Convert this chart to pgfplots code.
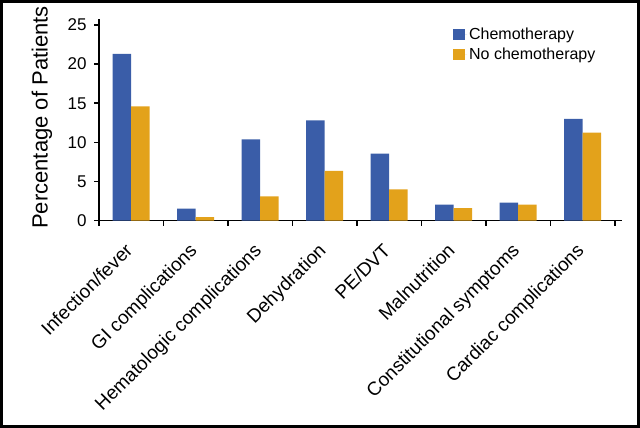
\documentclass[border=0pt]{standalone}
\usepackage{fontspec}
\setmainfont{Liberation Sans}
\usepackage{pgfplots}
\pgfplotsset{compat=1.18}
\definecolor{chemo}{HTML}{3A5DA8}
\definecolor{nochemo}{HTML}{E3A21B}
\pgfplotsset{sqlegend/.style={legend image code/.code={\fill[##1] (0pt,-5.5pt) rectangle (11.5pt,5.5pt); \path (0pt,0pt) -- (14pt,0pt);}}}
\begin{document}
\begin{tikzpicture}[x=1pt,y=1pt]
\path[use as bounding box] (0,0) rectangle (640,428);
\draw[line width=3pt] (1.5,1.5) rectangle (638.5,426.5);
\begin{axis}[
  at={(99pt,207.3pt)}, anchor=south west,
  scale only axis, width=523pt, height=201.7pt,
  xmin=-0.5, xmax=7.609, ymin=0, ymax=25.76,
  axis x line*=bottom, axis y line*=left,
  axis line style={line width=1.6pt, black},
  ybar=0pt, bar width=18.5pt,
  xtick={0,1,2,3,4,5,6,7},
  xticklabels={Infection/fever, GI complications, Hematologic complications, Dehydration, PE/DVT, Malnutrition, Constitutional symptoms, Cardiac complications},
  major x tick style={draw=none},
  minor xtick={-0.5,0.5,1.5,2.5,3.5,4.5,5.5,6.5,7.5},
  ytick={0,5,10,15,20,25},
  tick align=outside,
  tick style={line width=1.6pt, black},
  major tick length=5pt, minor tick length=5pt,
  /pgf/number format/assume math mode=true,
  yticklabel style={font=\fontsize{17}{20}\selectfont, xshift=-4pt},
  xticklabel style={rotate=45, anchor=north east, font=\fontsize{19}{21}\selectfont, xshift=-13.4pt, yshift=-2.8pt},
  ylabel={Percentage of Patients},
  every axis y label/.style={at={(axis description cs:-0.109,0.512)}, rotate=90, anchor=center, font=\fontsize{22}{26}\selectfont},
  legend style={at={(axis description cs:0.671,0.975)}, anchor=north west, draw=none, fill=none,
    font=\fontsize{16}{19}\selectfont, row sep=3pt},
  legend cell align=left,
]
\addplot[fill=chemo, draw=none, sqlegend] coordinates {(0,21.3) (1,1.53) (2,10.4) (3,12.8) (4,8.56) (5,2.04) (6,2.3) (7,13.0)};
\addplot[fill=nochemo, draw=none, sqlegend] coordinates {(0,14.6) (1,0.47) (2,3.1) (3,6.35) (4,4.0) (5,1.62) (6,2.04) (7,11.24)};
\legend{Chemotherapy, No chemotherapy}
\end{axis}
\end{tikzpicture}
\end{document}
